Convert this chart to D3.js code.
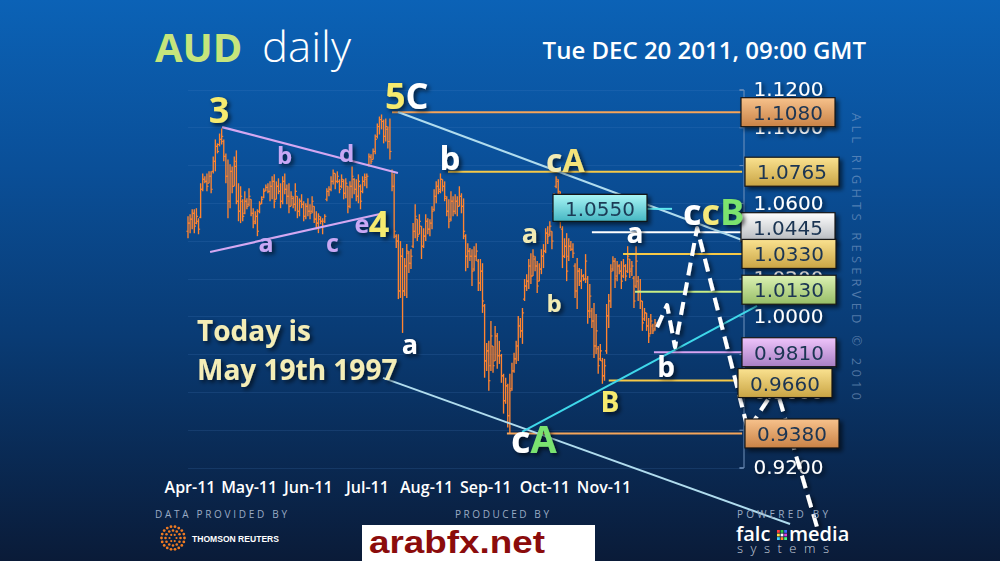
<!DOCTYPE html>
<html><head><meta charset="utf-8">
<script src="https://cdn.jsdelivr.net/npm/d3@7/dist/d3.min.js"></script>
<style>html,body{margin:0;padding:0;background:#0a3566;overflow:hidden}svg{display:block}</style>
</head><body><svg id="chart" width="1000" height="561"></svg>
<script>
// ---------- DATA ----------
const highs=[1.0529,1.0540,1.0566,1.0566,1.0572,1.0519,1.0704,1.0756,1.0741,1.0756,
1.0767,1.0767,1.0846,1.0936,1.0915,1.0967,1.0994,1.0936,1.0862,1.0830,
1.0804,1.0793,1.0846,1.0878,1.0704,1.0688,1.0619,1.0661,1.0624,1.0677,
1.0619,1.0572,1.0556,1.0566,1.0609,1.0635,1.0677,1.0698,1.0704,1.0714,
1.0741,1.0751,1.0714,1.0730,1.0704,1.0741,1.0756,1.0698,1.0704,1.0661,
1.0635,1.0704,1.0635,1.0624,1.0646,1.0609,1.0598,1.0624,1.0593,1.0635,
1.0582,1.0556,1.0545,1.0529,1.0519,1.0540,1.0677,1.0688,1.0741,1.0777,
1.0756,1.0767,1.0725,1.0751,1.0725,1.0730,1.0688,1.0714,1.0793,1.0730,
1.0725,1.0751,1.0698,1.0741,1.0756,1.0756,1.0862,1.0857,1.0888,1.0962,
1.1020,1.1057,1.1068,1.1041,1.1047,1.1004,1.1047,1.0777,1.0756,1.0434,
1.0434,1.0398,1.0361,1.0308,1.0382,1.0345,1.0355,1.0493,1.0593,1.0514,
1.0540,1.0477,1.0466,1.0540,1.0519,1.0514,1.0582,1.0672,1.0714,1.0725,
1.0756,1.0725,1.0714,1.0635,1.0619,1.0661,1.0635,1.0646,1.0635,1.0688,
1.0651,1.0624,1.0434,1.0387,1.0361,1.0355,1.0371,1.0387,1.0303,1.0303,
1.0281,1.0065,0.9859,0.9870,0.9975,0.9843,0.9949,0.9912,0.9870,0.9801,
0.9696,0.9675,0.9643,0.9696,0.9754,0.9807,0.9870,1.0002,0.9991,1.0044,
1.0197,1.0223,1.0303,1.0334,1.0355,1.0318,1.0292,1.0281,1.0355,1.0382,
1.0466,1.0477,1.0503,1.0450,1.0651,1.0741,1.0725,1.0661,1.0477,1.0413,
1.0440,1.0413,1.0398,1.0387,1.0281,1.0308,1.0255,1.0250,1.0223,1.0329,
1.0213,1.0171,1.0044,1.0070,1.0012,0.9843,0.9854,0.9780,0.9775,1.0065,
1.0118,1.0276,1.0318,1.0308,1.0292,1.0276,1.0292,1.0303,1.0276,1.0371,
1.0303,1.0292,1.0213,1.0371,1.0213,1.0197,1.0081,1.0044,1.0018,0.9991,
1.0012,0.9960,0.9986];
const lows=[1.0413,1.0440,1.0461,1.0440,1.0487,1.0434,1.0519,1.0661,1.0704,1.0661,
1.0704,1.0651,1.0756,1.0767,1.0862,1.0899,1.0909,1.0820,1.0704,1.0519,
1.0572,1.0651,1.0688,1.0593,1.0503,1.0493,1.0503,1.0540,1.0566,1.0582,
1.0529,1.0466,1.0487,1.0424,1.0545,1.0593,1.0624,1.0661,1.0651,1.0609,
1.0619,1.0572,1.0619,1.0646,1.0572,1.0593,1.0646,1.0593,1.0545,1.0582,
1.0572,1.0556,1.0519,1.0529,1.0572,1.0503,1.0514,1.0529,1.0514,1.0545,
1.0493,1.0461,1.0440,1.0487,1.0434,1.0493,1.0609,1.0635,1.0661,1.0698,
1.0672,1.0704,1.0651,1.0677,1.0619,1.0624,1.0545,1.0572,1.0624,1.0646,
1.0609,1.0598,1.0566,1.0651,1.0688,1.0677,1.0793,1.0804,1.0830,1.0857,
1.0941,1.0962,1.0989,1.0915,1.0925,1.0888,1.0830,1.0661,1.0413,1.0361,
1.0091,1.0097,0.9912,1.0107,1.0097,1.0229,1.0250,1.0361,1.0413,1.0398,
1.0434,1.0303,1.0361,1.0398,1.0434,1.0424,1.0461,1.0556,1.0598,1.0646,
1.0651,1.0661,1.0609,1.0529,1.0466,1.0503,1.0529,1.0540,1.0529,1.0582,
1.0545,1.0408,1.0239,1.0255,1.0292,1.0160,1.0239,1.0292,1.0134,1.0134,
1.0018,0.9675,0.9711,0.9606,0.9711,0.9701,0.9764,0.9722,0.9748,0.9648,
0.9485,0.9537,0.9411,0.9379,0.9606,0.9701,0.9748,0.9764,0.9886,0.9854,
1.0081,1.0134,1.0144,1.0171,1.0213,1.0239,1.0123,1.0186,1.0223,1.0255,
1.0334,1.0382,1.0424,1.0355,1.0540,1.0677,1.0646,1.0466,1.0255,1.0308,
1.0186,1.0292,1.0345,1.0308,1.0097,1.0039,1.0160,1.0144,1.0186,1.0176,
0.9960,0.9991,0.9938,0.9780,0.9801,0.9696,0.9764,0.9643,0.9659,0.9801,
0.9938,1.0044,1.0239,1.0150,1.0186,1.0223,1.0144,1.0202,1.0186,1.0229,
1.0202,1.0213,1.0044,1.0150,1.0081,1.0039,0.9923,0.9975,0.9923,0.9859,
0.9907,0.9907,0.9923];
const opens=[1.0450,1.0493,1.0514,1.0545,1.0493,1.0503,1.0524,1.0672,1.0725,1.0714,
1.0704,1.0741,1.0767,1.0820,1.0899,1.0909,1.0936,1.0925,1.0846,1.0741,
1.0609,1.0767,1.0688,1.0820,1.0609,1.0556,1.0609,1.0545,1.0609,1.0593,
1.0619,1.0545,1.0503,1.0529,1.0556,1.0598,1.0630,1.0667,1.0682,1.0661,
1.0688,1.0714,1.0619,1.0688,1.0661,1.0609,1.0714,1.0672,1.0635,1.0582,
1.0624,1.0593,1.0635,1.0556,1.0609,1.0593,1.0529,1.0582,1.0556,1.0556,
1.0582,1.0514,1.0493,1.0514,1.0503,1.0503,1.0619,1.0661,1.0672,1.0714,
1.0756,1.0714,1.0714,1.0688,1.0714,1.0651,1.0688,1.0582,1.0688,1.0725,
1.0672,1.0635,1.0688,1.0661,1.0714,1.0725,1.0804,1.0841,1.0830,1.0872,
1.0952,1.1004,1.1041,1.1031,1.0952,1.0989,1.0925,1.0767,1.0688,1.0424,
1.0398,1.0134,1.0318,1.0134,1.0266,1.0334,1.0281,1.0371,1.0450,1.0514,
1.0434,1.0477,1.0371,1.0424,1.0503,1.0461,1.0493,1.0566,1.0635,1.0688,
1.0672,1.0725,1.0688,1.0624,1.0556,1.0514,1.0609,1.0556,1.0609,1.0582,
1.0635,1.0582,1.0424,1.0318,1.0345,1.0318,1.0250,1.0318,1.0292,1.0176,
1.0239,1.0055,0.9764,0.9817,0.9738,0.9843,0.9764,0.9896,0.9791,0.9791,
0.9685,0.9553,0.9632,0.9474,0.9617,0.9711,0.9775,0.9843,0.9949,0.9923,
1.0091,1.0160,1.0186,1.0266,1.0213,1.0303,1.0266,1.0186,1.0250,1.0318,
1.0345,1.0440,1.0434,1.0450,1.0556,1.0688,1.0714,1.0651,1.0461,1.0318,
1.0371,1.0318,1.0371,1.0355,1.0266,1.0134,1.0239,1.0186,1.0213,1.0197,
1.0197,1.0028,1.0028,0.9975,0.9843,0.9828,0.9775,0.9764,0.9685,0.9817,
1.0002,1.0081,1.0250,1.0292,1.0213,1.0266,1.0239,1.0213,1.0266,1.0239,
1.0303,1.0250,1.0202,1.0160,1.0186,1.0134,1.0081,0.9986,1.0018,0.9949,
0.9907,0.9949,0.9933];
const closes=[1.0493,1.0514,1.0545,1.0477,1.0529,1.0461,1.0672,1.0725,1.0714,1.0688,
1.0741,1.0672,1.0820,1.0899,1.0872,1.0936,1.0952,1.0846,1.0741,1.0609,
1.0767,1.0688,1.0793,1.0609,1.0556,1.0635,1.0529,1.0609,1.0582,1.0635,
1.0545,1.0493,1.0529,1.0450,1.0593,1.0619,1.0661,1.0682,1.0661,1.0688,
1.0714,1.0609,1.0688,1.0661,1.0609,1.0714,1.0672,1.0635,1.0582,1.0635,
1.0593,1.0661,1.0556,1.0609,1.0593,1.0529,1.0582,1.0556,1.0545,1.0609,
1.0514,1.0493,1.0529,1.0503,1.0477,1.0529,1.0661,1.0672,1.0714,1.0756,
1.0714,1.0741,1.0672,1.0725,1.0651,1.0704,1.0582,1.0688,1.0741,1.0672,
1.0635,1.0714,1.0609,1.0714,1.0735,1.0741,1.0846,1.0820,1.0872,1.0936,
1.1004,1.1041,1.1031,1.0952,1.1004,1.0925,1.0872,1.0688,1.0450,1.0398,
1.0134,1.0318,1.0134,1.0266,1.0345,1.0281,1.0318,1.0450,1.0529,1.0424,
1.0503,1.0371,1.0424,1.0503,1.0461,1.0493,1.0556,1.0635,1.0688,1.0661,
1.0725,1.0688,1.0635,1.0556,1.0503,1.0609,1.0556,1.0609,1.0582,1.0635,
1.0582,1.0450,1.0318,1.0345,1.0318,1.0239,1.0318,1.0345,1.0176,1.0239,
1.0081,0.9764,0.9817,0.9659,0.9896,0.9738,0.9896,0.9791,0.9817,0.9685,
0.9553,0.9632,0.9474,0.9606,0.9711,0.9775,0.9843,0.9949,0.9923,1.0018,
1.0160,1.0186,1.0266,1.0213,1.0318,1.0266,1.0160,1.0250,1.0318,1.0345,
1.0440,1.0424,1.0477,1.0398,1.0619,1.0725,1.0661,1.0529,1.0318,1.0371,
1.0239,1.0371,1.0355,1.0334,1.0134,1.0239,1.0186,1.0213,1.0197,1.0292,
1.0028,1.0107,0.9975,0.9843,0.9923,0.9738,0.9817,0.9685,0.9738,1.0002,
1.0081,1.0239,1.0292,1.0197,1.0266,1.0239,1.0186,1.0266,1.0213,1.0318,
1.0239,1.0266,1.0081,1.0292,1.0134,1.0081,0.9965,1.0018,0.9949,0.9896,
0.9975,0.9923,0.9965];
const months=["Apr-11","May-11","Jun-11","Jul-11","Aug-11","Sep-11","Oct-11","Nov-11"];
const yTicks=[0.92,0.94,0.96,0.98,1.00,1.02,1.04,1.06,1.08,1.10,1.12];
const hiddenTicks=[0.94,0.98,1.04,1.08]; // fully covered by level boxes in the original
const levelValues=[1.1080,1.0765,1.0445,1.0330,1.0130,0.9810,0.9660,0.9380];
const levelStartBar=[97,123.6,192,206.8,212.5,221.5,200,151.6];
const targetValue=1.0550;
// trend lines as [bar index, price]
const lavenderUpper=[[16.2,1.1001],[99.8,1.0758]];
const lavenderLower=[[10.5,1.0340],[91.3,1.0541]];
const channelUpper=[[99.8,1.1081],[263.4,1.0404]];
const channelLower=[[92.7,0.9674],[286.2,0.8901]];
const supportLine=[[158.8,0.9388],[270.5,1.0055]];
const projection=[[223,0.9943],[227.7,1.0060],[231.5,0.9837],[242,1.0467],[266.2,0.9398],[279.5,0.9625],[299,0.8885]];

// ---------- SETUP ----------
const W=1000,H=561;
const svg=d3.select('#chart');
const defs=svg.append('defs');
function grad(id,stops){const g=defs.append('linearGradient').attr('id',id).attr('x1',0).attr('y1',0).attr('x2',0).attr('y2',1);
 stops.forEach(s=>g.append('stop').attr('offset',s[0]).attr('stop-color',s[1]));}
grad('bg',[[0,'#0b62b6'],[0.3,'#0a4f98'],[0.6,'#093b74'],[1,'#0a1b38']]);
grad('gOrange',[[0,'#f7c28c'],[1,'#c98246']]);
grad('gYellow',[[0,'#fae290'],[1,'#c9a444']]);
grad('gWhite',[[0,'#ffffff'],[1,'#b4b8bd']]);
grad('gGreen',[[0,'#dcf2b4'],[1,'#97bd66']]);
grad('gLav',[[0,'#efc4fb'],[1,'#a87fc4']]);
grad('gTeal',[[0,'#aaf6f6'],[1,'#45b6c2']]);
const f1=defs.append('filter').attr('id','sh').attr('x','-30%').attr('y','-30%').attr('width','160%').attr('height','160%');
f1.append('feDropShadow').attr('dx',2.5).attr('dy',2.5).attr('stdDeviation',2).attr('flood-color','#000').attr('flood-opacity',0.65);
const f2=defs.append('filter').attr('id','bsh').attr('x','-20%').attr('y','-30%').attr('width','140%').attr('height','170%');
f2.append('feDropShadow').attr('dx',3).attr('dy',3).attr('stdDeviation',2).attr('flood-color','#000').attr('flood-opacity',0.55);

svg.append('rect').attr('width',W).attr('height',H).attr('fill','url(#bg)');

const x=d3.scaleLinear().domain([0,highs.length-1]).range([188,655]);
const y=d3.scaleLinear().domain([0.92,1.12]).range([467.5,89.5]);
const line=d3.line().x(d=>x(d[0])).y(d=>y(d[1]));

// gridlines
svg.append('g').selectAll('line').data(yTicks).join('line')
 .attr('x1',188).attr('x2',742).attr('y1',d=>Math.round(y(d))+.5).attr('y2',d=>Math.round(y(d))+.5)
 .attr('stroke','#4f86c8').attr('stroke-opacity',0.18);

// titles
svg.append('text').attr('x',155).attr('y',62).attr('fill','#c6e57c').style('font','700 40px "Open Sans",sans-serif').text('AUD');
svg.append('text').attr('x',262).attr('y',62).attr('fill','#fff').attr('textLength',89).attr('lengthAdjust','spacingAndGlyphs')
 .style('font','300 43px "Open Sans",sans-serif').text('daily');
svg.append('text').attr('x',866).attr('y',59).attr('text-anchor','end').attr('fill','#fff')
 .style('font','600 24px "Open Sans",sans-serif').text('Tue DEC 20 2011, 09:00 GMT');

// copyright vertical
svg.append('text').attr('transform','translate(852,113) rotate(90)').attr('fill','#8eaad0').attr('fill-opacity',0.55)
 .attr('textLength',287).attr('lengthAdjust','spacing')
 .style('font','400 13px "Open Sans",sans-serif').text('ALL RIGHTS RESERVED © 2010');

// month labels
const mx=d3.scalePoint().domain(months).range([190,604]);
svg.append('g').selectAll('text').data(months).join('text')
 .attr('x',d=>mx(d)).attr('y',493).attr('text-anchor','middle').attr('fill','#fff')
 .style('font','600 16px "Open Sans",sans-serif').text(d=>d);

// axis
const axis=d3.axisRight(y).tickValues(yTicks)
 .tickFormat(d=>hiddenTicks.includes(d)?'':d3.format('.4f')(d))
 .tickSizeInner(-4).tickSizeOuter(-4).tickPadding(10);
const ag=svg.append('g').attr('transform','translate(743.5,0)').call(axis);
ag.select('.domain').attr('stroke','#7393bd');
ag.selectAll('.tick line').attr('stroke','#7393bd');
ag.selectAll('.tick text').attr('fill','#fff').attr('filter','url(#sh)').style('font','20px "DejaVu Sans",sans-serif');

// bars
const bars=svg.append('g').attr('stroke','#ff8430').attr('stroke-width',1.35);
const idx=d3.range(highs.length);
bars.selectAll('line.hl').data(idx).join('line').attr('class','hl')
 .attr('x1',i=>x(i)).attr('x2',i=>x(i)).attr('y1',i=>y(highs[i])).attr('y2',i=>y(lows[i]));
bars.selectAll('line.op').data(idx).join('line').attr('class','op').attr('stroke-width',1.1)
 .attr('x1',i=>x(i)-1.6).attr('x2',i=>x(i)).attr('y1',i=>y(opens[i])).attr('y2',i=>y(opens[i]));
bars.selectAll('line.cl').data(idx).join('line').attr('class','cl').attr('stroke-width',1.1)
 .attr('x1',i=>x(i)).attr('x2',i=>x(i)+1.6).attr('y1',i=>y(closes[i])).attr('y2',i=>y(closes[i]));

// level lines
const levelColors=['#f5a55a','#f6c948','#ffffff','#f6c948','#c8ee86','#d9a4f2','#f6c948','#f5a55a'];
const lineEnd=263.4;
svg.append('g').selectAll('line').data(levelValues).join('line')
 .attr('x1',(d,i)=>x(levelStartBar[i])).attr('x2',x(lineEnd))
 .attr('y1',d=>y(d)).attr('y2',d=>y(d))
 .attr('stroke',(d,i)=>levelColors[i]).attr('stroke-width',2);

// trend lines
const tl=svg.append('g').attr('fill','none');
tl.append('path').attr('d',line(lavenderUpper)).attr('stroke','#d4a8f2').attr('stroke-width',2.2);
tl.append('path').attr('d',line(lavenderLower)).attr('stroke','#d4a8f2').attr('stroke-width',2.2);
tl.append('path').attr('d',line(channelUpper)).attr('stroke','#b0dcee').attr('stroke-width',2);
tl.append('path').attr('d',line(channelLower)).attr('stroke','#b0dcee').attr('stroke-width',2);
tl.append('path').attr('d',line(supportLine)).attr('stroke','#3fd8ea').attr('stroke-width',2);
tl.append('line').attr('x1',x(218.2)).attr('x2',x(230.1)).attr('y1',y(targetValue)-3.5).attr('y2',y(targetValue)-3.5).attr('stroke','#5fe8f0').attr('stroke-width',2);

// projection (dashed)
svg.append('path').attr('d',line(projection)).attr('fill','none').attr('stroke','#fff')
 .attr('stroke-width',4).attr('stroke-dasharray','13,7').attr('stroke-linejoin','round').attr('filter','url(#sh)');

// target box 1.0550
const tb=svg.append('g').attr('filter','url(#bsh)');
tb.append('rect').attr('x',553).attr('y',y(targetValue)-18).attr('width',94).attr('height',27)
 .attr('fill','url(#gTeal)').attr('stroke','#111').attr('stroke-width',1.2);
tb.append('text').attr('x',600).attr('y',y(targetValue)+3.5).attr('text-anchor','middle').attr('fill','#1b3a55')
 .style('font','20px "DejaVu Sans",sans-serif').text(d3.format('.4f')(targetValue));

// level boxes
const boxFill=['gOrange','gYellow','gWhite','gYellow','gGreen','gLav','gYellow','gOrange'];
const boxLeft=[741,745,741,742,742,742,738,745];
const boxDy=[0,0,-5,0,-2,0,2.5,0];
const bx=svg.append('g').selectAll('g').data(levelValues).join('g').attr('filter','url(#bsh)');
bx.append('rect').attr('x',(d,i)=>boxLeft[i]).attr('y',(d,i)=>y(d)+boxDy[i]-14.5).attr('width',94).attr('height',29)
 .attr('fill',(d,i)=>`url(#${boxFill[i]})`).attr('stroke','#161616').attr('stroke-width',1.2);
bx.append('text').attr('x',(d,i)=>boxLeft[i]+47).attr('y',(d,i)=>y(d)+boxDy[i]+7.5).attr('text-anchor','middle')
 .attr('fill','#1b3552').style('font','20px "DejaVu Sans",sans-serif').text(d=>d3.format('.4f')(d));

// wave labels
const lav='#c9a8f4', yel='#f6ea6e', pale='#f2ebb4';
const waveLabels=[
 {p:[["3",yel]],x:219,y:123,s:36},
 {p:[["5",yel],["C","#fff"]],x:385,y:109,s:36,a:'start'},
 {p:[["b",lav]],x:284.5,y:164,s:24},
 {p:[["d",lav]],x:346.5,y:162,s:24},
 {p:[["a",lav]],x:266,y:252,s:25},
 {p:[["c",lav]],x:332.5,y:252,s:25},
 {p:[["e",lav]],x:362,y:233,s:25},
 {p:[["4",yel]],x:379,y:237,s:36},
 {p:[["b","#fff"]],x:450,y:170,s:33},
 {p:[["c",pale],["A","#f3e27a"]],x:546,y:172,s:32,a:'start'},
 {p:[["a",pale]],x:530,y:243,s:27},
 {p:[["b",pale]],x:554,y:312,s:24},
 {p:[["a","#fff"]],x:635,y:243,s:28},
 {p:[["c","#fff"],["c","#f4e87a"],["B","#7be36e"]],x:683,y:225,s:36,a:'start'},
 {p:[["b","#fff"]],x:666,y:377,s:28},
 {p:[["B",yel]],x:610,y:412,s:28},
 {p:[["c","#fff"],["A","#7ae270"]],x:511,y:453,s:38,a:'start'},
 {p:[["a","#fff"]],x:410,y:354,s:27}
];
const wl=svg.append('g').attr('filter','url(#sh)');
waveLabels.forEach(l=>{
 const t=wl.append('text').attr('x',l.x).attr('y',l.y).attr('text-anchor',l.a||'middle')
  .style('font',`700 ${l.s}px "Open Sans",sans-serif`);
 l.p.forEach(q=>t.append('tspan').text(q[0]).attr('fill',q[1]));
});

// today text
const today=svg.append('g').attr('filter','url(#sh)').attr('fill','#f4edb6').style('font','700 28px "Open Sans",sans-serif');
today.append('text').attr('x',197).attr('y',341).text('Today is');
today.append('text').attr('x',197).attr('y',380).text('May 19th 1997');

// footer
const foot=svg.append('g').attr('fill','#9aabc4').style('font','400 10px "Open Sans",sans-serif');
foot.append('text').attr('x',155).attr('y',518).attr('textLength',132).attr('lengthAdjust','spacing').text('DATA PROVIDED BY');
foot.append('text').attr('x',455).attr('y',518).attr('textLength',94).attr('lengthAdjust','spacing').text('PRODUCED BY');
foot.append('text').attr('x',737).attr('y',518).attr('textLength',91).attr('lengthAdjust','spacing').text('POWERED BY');

// thomson reuters logo
const tr=svg.append('g').attr('fill','#f07b22');
[[3.5,6,1.1],[7.5,12,1.3],[11.5,18,1.4]].forEach(r=>{
 d3.range(r[1]).forEach(k=>{const a=k/r[1]*2*Math.PI;
  tr.append('circle').attr('cx',173+r[0]*Math.cos(a)).attr('cy',538+r[0]*Math.sin(a)).attr('r',r[2]);});
});
svg.append('text').attr('x',192).attr('y',542).attr('fill','#fff').attr('textLength',87).attr('lengthAdjust','spacingAndGlyphs')
 .style('font','700 9px "Liberation Sans",sans-serif').text('THOMSON REUTERS');

// arabfx box
svg.append('rect').attr('x',362).attr('y',525).attr('width',233).attr('height',40).attr('fill','#fff');
svg.append('text').attr('x',369).attr('y',553).attr('fill','#8b0c0c').attr('textLength',176).attr('lengthAdjust','spacingAndGlyphs')
 .style('font','700 32px "Liberation Sans",Arial,sans-serif').text('arabfx.net');

// falcmedia logo
const fm=svg.append('g').attr('fill','#fff').style('font','600 20px "Open Sans",sans-serif');
fm.append('text').attr('x',736).attr('y',541).text('falc');
fm.append('text').attr('x',789).attr('y',541).text('media');
const dotCols=['#ff3b3b','#2ecc40','#3b6bff','#ffe03b','#ffffff','#e040e0','#3bd0ff','#ff8a2b','#40ff80'];
dotCols.forEach((c,k)=>svg.append('rect').attr('x',777+(k%3)*3.6).attr('y',530+Math.floor(k/3)*3.6).attr('width',2.8).attr('height',2.8).attr('fill',c));
svg.append('text').attr('x',737).attr('y',553).attr('fill','#c7cfdc').attr('textLength',92).attr('lengthAdjust','spacing')
 .style('font','300 13px "Open Sans",sans-serif').text('systems');
</script></body></html>
